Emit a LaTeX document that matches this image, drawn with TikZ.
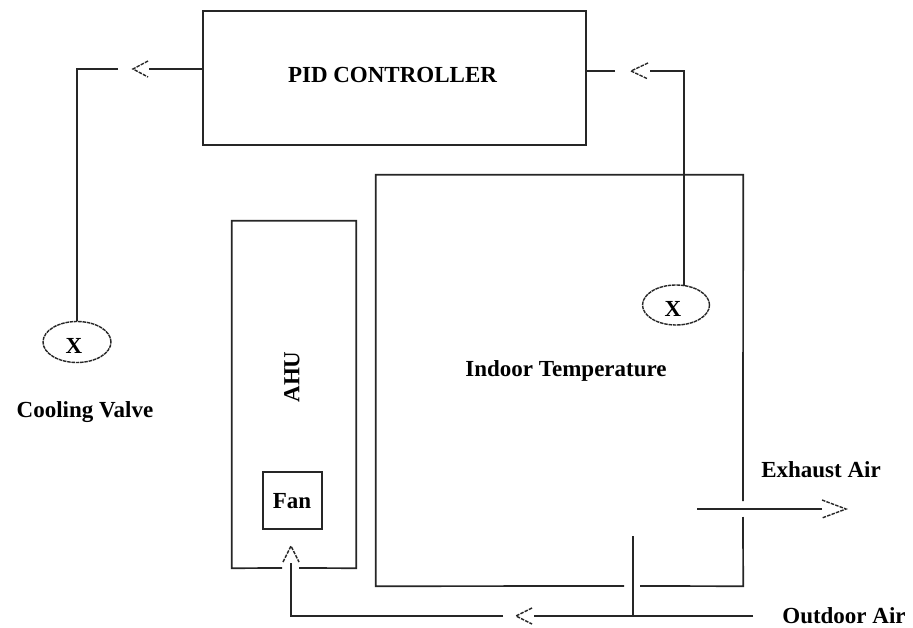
\documentclass[tikz,border=0pt]{standalone}
\usepackage{fontspec}
\setmainfont{Liberation Serif}
\usetikzlibrary{shapes.geometric}
\definecolor{linec}{HTML}{262626}
\begin{document}
\begin{tikzpicture}[x=1pt,y=-1pt]
\tikzset{
  ln/.style={draw=linec, line width=1.7pt},
  box/.style={draw=linec, line width=1.7pt, rectangle, inner sep=0pt},
  lbl/.style={font=\fontsize{23}{28}\selectfont\bfseries, text=black, inner sep=0pt},
  chev/.style={draw=linec, line width=1.4pt, dash pattern=on 3.5pt off 1.2pt},
  valve/.style={ellipse, draw=linec, line width=1.4pt, dash pattern=on 3.5pt off 0.8pt, inner sep=0pt}
}
\fill[white] (0,0) rectangle (913,628);
\useasboundingbox (0,0) rectangle (913,628);

% boxes
\node[box, minimum width=383pt, minimum height=134pt] (pid) at (394.5,78) {};
\node[lbl, anchor=base] (pidt) at (392.5,83) {PID CONTROLLER};

\node[inner sep=0pt, minimum width=367pt, minimum height=411pt] (room) at (559.5,380.5) {};
\draw[ln] (743,501) -- (room.north east) -- (room.north west) -- (room.south west) -- (624,586);
\draw[ln] (640,586) -- (room.south east) -- (743,517);
\node[lbl, anchor=base] (roomt) at (566,376) {Indoor Temperature};

\node[inner sep=0pt, minimum width=124pt, minimum height=347pt] (ahu) at (294,394.5) {};
\draw[ln] (282,568) -- (ahu.south west) -- (ahu.north west) -- (ahu.north east) -- (ahu.south east) -- (299,568);
\node[lbl, rotate=90] (ahut) at (292,377) {AHU};

\node[box, minimum width=59pt, minimum height=57pt] (fan) at (292.5,500.5) {};
\node[lbl, anchor=base] (fant) at (292,508) {Fan};

% valves
\node[valve, minimum width=68pt, minimum height=41pt] (vl) at (77,342) {};
\node[lbl, anchor=base] (vlt) at (74,353) {X};
\node[valve, minimum width=67pt, minimum height=40pt] (vr) at (676,305) {};
\node[lbl, anchor=base] (vrt) at (673,317) {X};

\node[lbl, anchor=base] (cv) at (85,417) {Cooling Valve};
\node[lbl, anchor=base] (ex) at (821,477) {Exhaust Air};
\node[lbl, anchor=base] (oa) at (844,623) {Outdoor Air};

% left signal: PID -> cooling valve
\coordinate (l1) at (149,69);
\coordinate (l2) at (118,69);
\draw[ln] (pid.west |- l1) -- (l1);
\draw[chev] ([shift={(-1,-8)}]l1) -- ([shift={(-16,0)}]l1) -- ([shift={(-1,8)}]l1);
\draw[ln] (l2) -- (vl.north |- l2) -- (vl.north);

% right signal: sensor -> PID
\coordinate (rt) at (684,286);
\coordinate (r1) at (650,71);
\coordinate (r2) at (615,71);
\draw[ln] (rt) -- (rt |- r1) -- (r1);
\draw[chev] ([shift={(-2,-8)}]r1) -- ([shift={(-19,0)}]r1) -- ([shift={(-2,8)}]r1);
\draw[ln] (r2) -- (pid.east |- r2);

% exhaust
\coordinate (e1) at (697,509);
\coordinate (e2) at (822,509);
\draw[ln] (e1) -- (e2);
\draw[chev] ([shift={(0,-9)}]e2) -- ([shift={(24,0)}]e2) -- ([shift={(0,9)}]e2);

% outdoor air
\coordinate (o1) at (753,616);
\coordinate (o2) at (534,616);
\coordinate (o3) at (503,616);
\coordinate (a1) at (291,563);
\draw[ln] (o1) -- (o2);
\draw[chev] ([shift={(-2,-8)}]o2) -- ([shift={(-18,0)}]o2) -- ([shift={(-2,8)}]o2);
\draw[ln] (o3) -- (a1 |- o3) -- (a1);
\draw[chev] ([shift={(-8,-1)}]a1) -- ([shift={(0,-17)}]a1) -- ([shift={(8,-1)}]a1);

\coordinate (d1) at (633,536);
\coordinate (d2) at (633,616);
\draw[ln] (d1) -- (d2);
\end{tikzpicture}
\end{document}
